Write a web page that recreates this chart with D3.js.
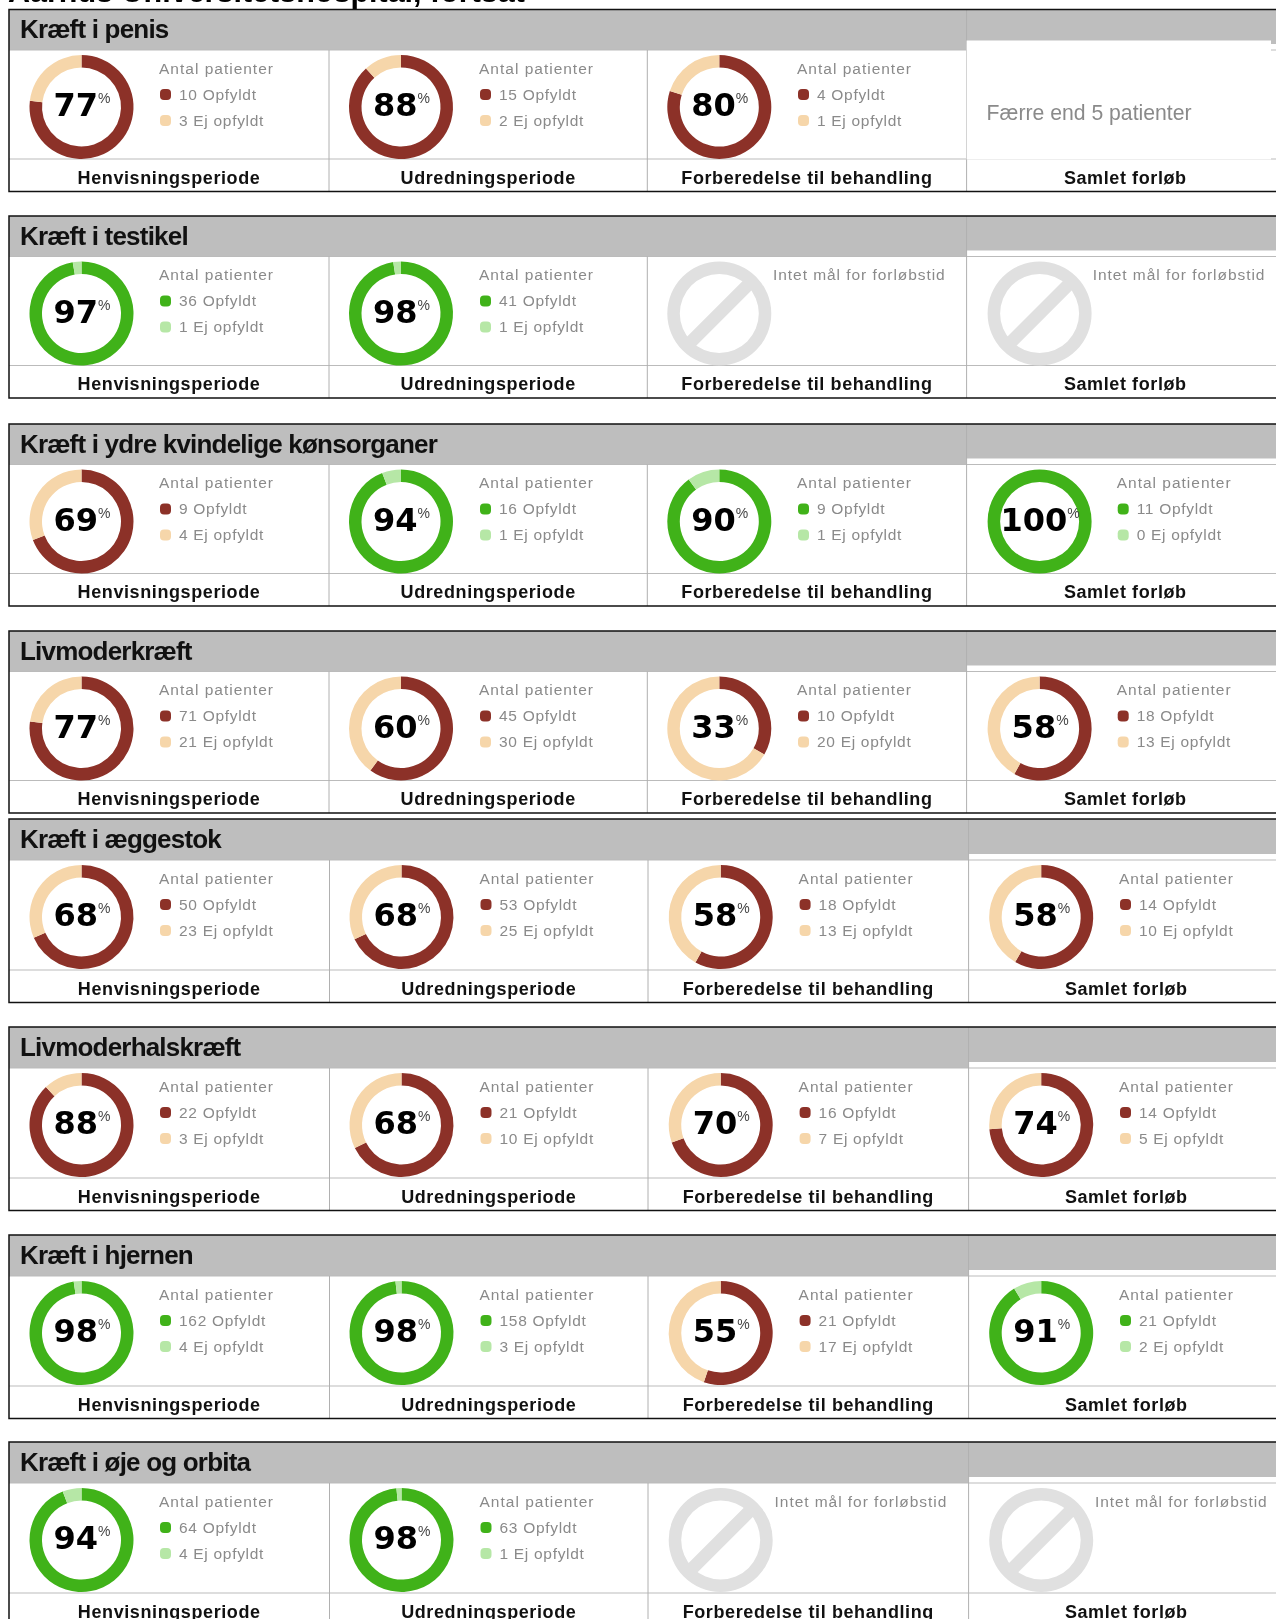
<!DOCTYPE html>
<html>
<head>
<meta charset="utf-8">
<script src="https://cdn.jsdelivr.net/npm/d3@7"></script>
<style>
    html, body { margin: 0; padding: 0; background: #fff; overflow: hidden; }
    svg { display: block; filter: blur(0.4px); }
    text { font-family: "Liberation Sans", sans-serif; }
    text.pct { font-family: "DejaVu Sans", sans-serif; }
    text.pct tspan { font-family: "Liberation Sans", sans-serif; }
</style>
</head>
<body>
<div id="chart"></div>
<script>
const pageTitle = "Aarhus Universitetshospital, fortsat";
const categories = [
    "Kræft i penis",
    "Kræft i testikel",
    "Kræft i ydre kvindelige kønsorganer",
    "Livmoderkræft",
    "Kræft i æggestok",
    "Livmoderhalskræft",
    "Kræft i hjernen",
    "Kræft i øje og orbita"
];
const periods = ["Henvisningsperiode", "Udredningsperiode", "Forberedelse til behandling", "Samlet forløb"];

// one row per category, one entry per period. null = no chart for that cell
const opfyldt = [
    [10, 15, 4, null],
    [36, 41, null, null],
    [9, 16, 9, 11],
    [71, 45, 10, 18],
    [50, 53, 18, 14],
    [22, 21, 16, 14],
    [162, 158, 21, 21],
    [64, 63, null, null]
];
const ejOpfyldt = [
    [3, 2, 1, null],
    [1, 1, null, null],
    [4, 1, 1, 0],
    [21, 30, 20, 13],
    [23, 25, 13, 10],
    [3, 10, 7, 5],
    [4, 3, 17, 2],
    [4, 1, null, null]
];
// true = goal reached (green), false = red
const goalMet = [
    [false, false, false, false],
    [true, true, false, false],
    [false, true, true, true],
    [false, false, false, false],
    [false, false, false, false],
    [false, false, false, false],
    [true, true, false, true],
    [true, true, false, false]
];
const noChartText = {few: "Færre end 5 patienter", noGoal: "Intet mål for forløbstid"};
const fewPatients = [[0, 3]];

// Page layout, the panels are pasted in by hand in the original so they do not line up evenly
const width = 1276;
const height = 1619;
const panelTop = [9.5, 216, 424, 631, 819, 1027, 1235, 1442];
const headH = [40.5, 41];
const bodyH = [109, 110];
const footH = [32.5, 32.5];
const colEdges = [[329, 647.3, 966.6], [329.5, 648, 968.6]];
const donutX = [[81.5, 401, 719.3, 1039.6], [81.5, 401.5, 720.7, 1041.2]];
const legendX = [[159, 479, 797, 1116.7], [159, 479.5, 798.6, 1119]];
const outerR = 52;
const innerR = 39.5;

const colors = {
    red: ["#8c3128", "#f6d6aa"],
    green: ["#40b219", "#b6e7a6"]
};

const svg = d3.select("#chart").append("svg")
    .attr("width", width)
    .attr("height", height);

const pie = d3.pie().sort(null).value((d) => d.value);
const arc = d3.arc().innerRadius(innerR).outerRadius(outerR);

// Title is cut by the top of the page
svg.append("text")
    .attr("x", 8)
    .attr("y", 2)
    .attr("font-size", 30.5)
    .attr("font-weight", "bold")
    .text(pageTitle);

const panels = svg.selectAll("g.panel")
    .data(categories)
    .enter()
    .append("g")
    .attr("class", "panel")
    .attr("transform", (d, i) => `translate(0, ${panelTop[i]})`);

panels.each(function (name, p) {
    const g = d3.select(this);
    const lay = p < 4 ? 0 : 1;
    const edges = colEdges[lay];
    const bodyTop = headH[lay];
    const rowLine = bodyTop + bodyH[lay];
    const panelH = rowLine + footH[lay];

    // Header band
    g.append("rect")
        .attr("x", 9).attr("y", 0)
        .attr("width", width - 9).attr("height", bodyTop)
        .attr("fill", "#bebebe");

    g.append("text")
        .attr("x", 20).attr("y", 28.5)
        .attr("font-size", 26)
        .attr("font-weight", "bold")
        .attr("letter-spacing", -0.8)
        .attr("fill", "#111")
        .text(name);

    // White strip under the last column of the header
    g.append("rect")
        .attr("x", edges[2]).attr("y", bodyTop - 6)
        .attr("width", width - edges[2]).attr("height", 6)
        .attr("fill", "#fff");

    // Grid lines
    g.append("line")
        .attr("x1", 9).attr("x2", width)
        .attr("y1", bodyTop).attr("y2", bodyTop)
        .attr("stroke", "#bbb");
    g.append("line")
        .attr("x1", 9).attr("x2", width)
        .attr("y1", rowLine).attr("y2", rowLine)
        .attr("stroke", "#bbb").attr("stroke-width", 1.2);

    edges.forEach((x, i) => {
        g.append("line")
            .attr("x1", x).attr("x2", x)
            .attr("y1", i === 2 ? 0 : bodyTop).attr("y2", panelH)
            .attr("stroke", "#b0b0b0");
    });

    periods.forEach((period, c) => {
        const cx = donutX[lay][c];
        const lx = legendX[lay][c];
        const cy = bodyTop + 57;
        const cell = g.append("g");

        const colLeft = c === 0 ? 9 : edges[c - 1];
        const colRight = c === 3 ? width : edges[c];
        cell.append("text")
            .attr("x", (colLeft + colRight) / 2 + (c === 3 ? 4 : 0))
            .attr("y", rowLine + 24.5)
            .attr("text-anchor", "middle")
            .attr("font-size", 18)
            .attr("font-weight", "bold")
            .attr("letter-spacing", 0.6)
            .attr("fill", "#111")
            .text(period);

        if (fewPatients.some((f) => f[0] === p && f[1] === c)) {
            // White box covering the cell
            g.append("rect")
                .attr("x", edges[2]).attr("y", 31)
                .attr("width", 1271 - edges[2]).attr("height", rowLine - 31 + 0.5)
                .attr("fill", "#fff");
            g.append("text")
                .attr("x", edges[2] + 20).attr("y", 110)
                .attr("font-size", 21.2)
                .attr("fill", "#8a8a8a")
                .text(noChartText.few);
            return;
        }

        const donut = cell.append("g").attr("transform", `translate(${cx}, ${cy})`);

        if (opfyldt[p][c] === null) {
            // Grey "no entry" sign
            donut.append("path")
                .attr("d", d3.arc().innerRadius(innerR).outerRadius(outerR).startAngle(0).endAngle(2 * Math.PI)())
                .attr("fill", "#e0e0e0");
            donut.append("line")
                .attr("x1", -32).attr("y1", 32)
                .attr("x2", 32).attr("y2", -32)
                .attr("stroke", "#e0e0e0")
                .attr("stroke-width", 13);
            cell.append("text")
                .attr("x", lx - 24).attr("y", bodyTop + 23.5)
                .attr("font-size", 15.5)
                .attr("letter-spacing", 0.95)
                .attr("fill", "#8a8a8a")
                .text(noChartText.noGoal);
            return;
        }

        const values = [
            {key: "met", value: opfyldt[p][c]},
            {key: "miss", value: ejOpfyldt[p][c]}
        ];
        const scheme = goalMet[p][c] ? colors.green : colors.red;
        const color = d3.scaleOrdinal().domain(["met", "miss"]).range(scheme);

        donut.selectAll("path")
            .data(pie(values))
            .enter()
            .append("path")
            .attr("d", arc)
            .attr("fill", (d) => color(d.data.key));

        // Percent in the middle
        const pct = Math.round(100 * values[0].value / (values[0].value + values[1].value));
        const pctText = donut.append("text")
            .attr("class", "pct")
            .attr("x", 0.5).attr("y", 9)
            .attr("text-anchor", "middle")
            .attr("font-size", 32)
            .attr("font-weight", "bold")
            .attr("fill", "#000")
            .text(pct);
        pctText.append("tspan")
            .attr("dy", -13)
            .attr("font-size", 14)
            .attr("font-weight", "normal")
            .attr("fill", "#444")
            .text("%");

        // Legend
        cell.append("text")
            .attr("x", lx).attr("y", bodyTop + 23.5)
            .attr("font-size", 15.5)
            .attr("letter-spacing", 1)
            .attr("fill", "#8a8a8a")
            .text("Antal patienter");

        const rows = [
            `${values[0].value} Opfyldt`,
            `${values[1].value} Ej opfyldt`
        ];
        rows.forEach((label, r) => {
            const ry = bodyTop + 44.5 + r * 26;
            cell.append("rect")
                .attr("x", lx + 1).attr("y", ry - 5.5)
                .attr("width", 11).attr("height", 11)
                .attr("rx", 4)
                .attr("fill", scheme[r]);
            cell.append("text")
                .attr("x", lx + 20).attr("y", ry + 5)
                .attr("font-size", 15.5)
                .attr("letter-spacing", 0.7)
                .attr("fill", "#8a8a8a")
                .text(label);
        });
    });

    // Black frame: left, top and bottom, the page cuts the right side
    g.append("path")
        .attr("d", `M${width},0H9V${panelH}H${width}`)
        .attr("fill", "none")
        .attr("stroke", "#111")
        .attr("stroke-width", 1.5);
});
</script>
</body>
</html>
